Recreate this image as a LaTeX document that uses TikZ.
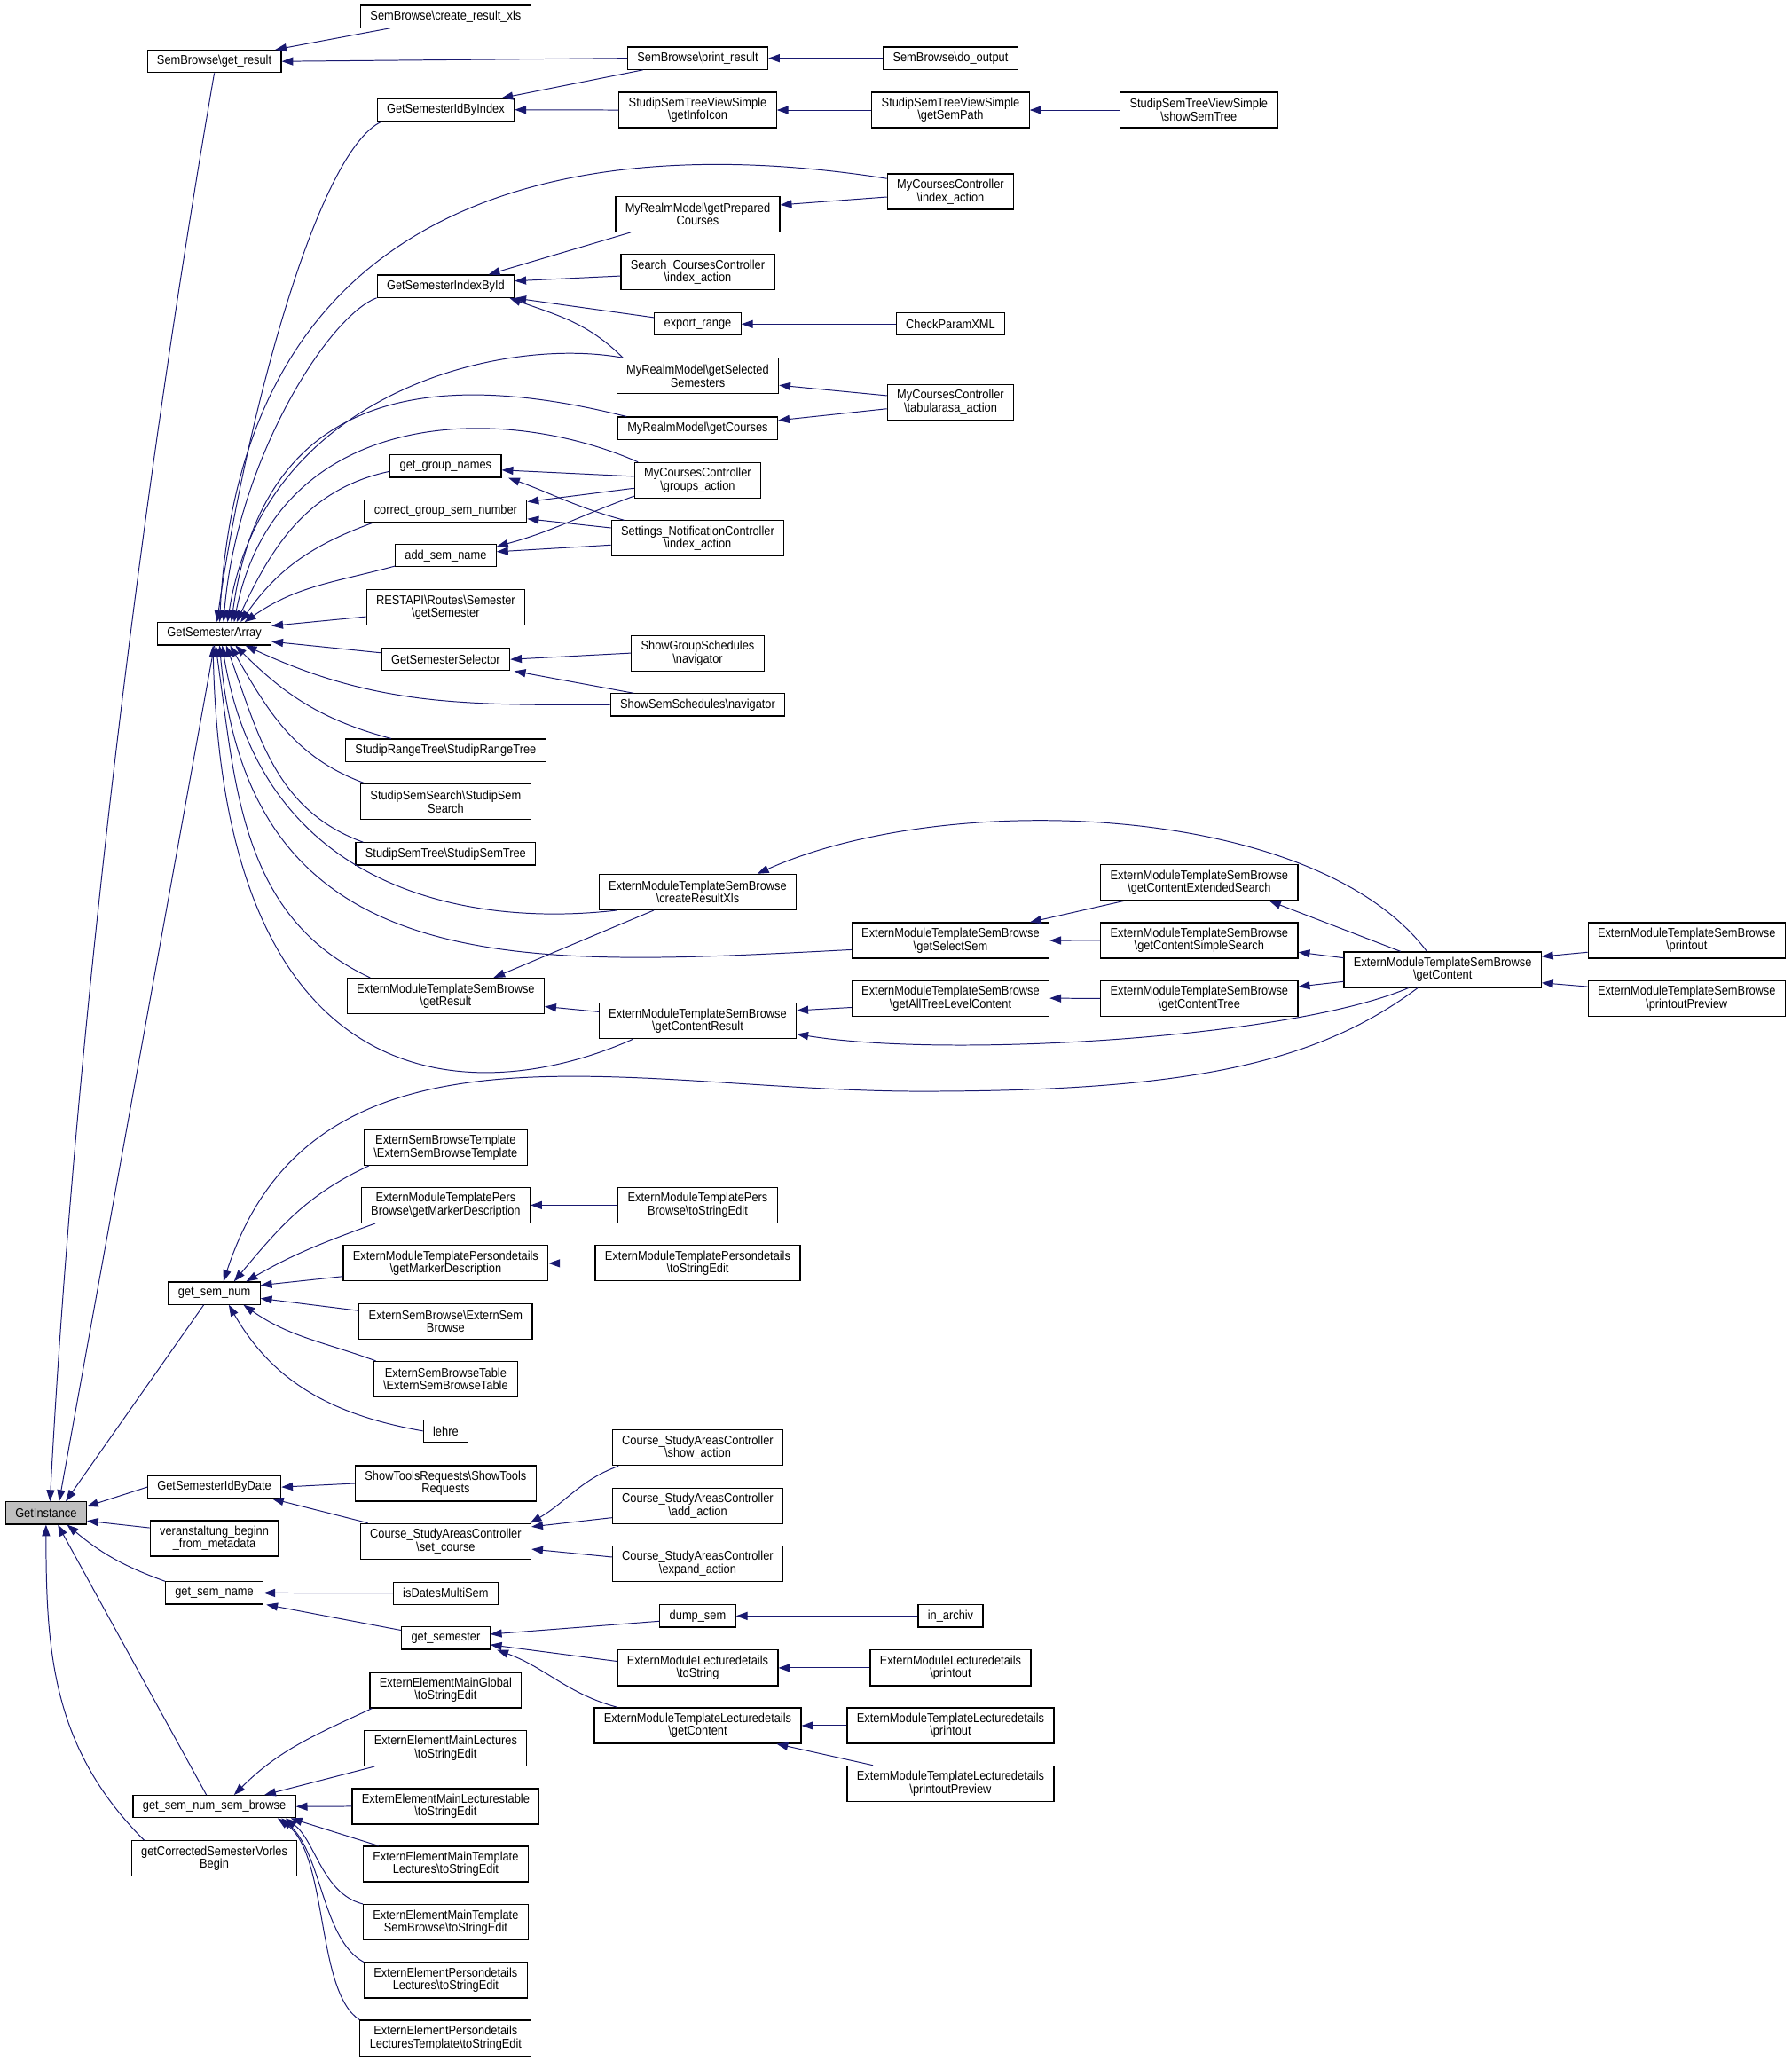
\documentclass[tikz,border=0pt]{standalone}
\usepackage{fontspec}
\setmainfont{Liberation Sans}[FakeStretch=0.89]
\usetikzlibrary{arrows.meta,calc}
\definecolor{edgeblue}{RGB}{25,25,112}
\definecolor{rootgray}{RGB}{191,191,191}
\newcommand{\bksl}{\textbackslash}
\begin{document}
\begin{tikzpicture}[x=0.75pt,y=-0.75pt,font=\fontsize{7.3}{7.3}\selectfont]
 \tikzstyle{fnnode}=[draw=black, line width=0.6pt, fill=white, align=center, inner xsep=5.5pt, inner ysep=1pt, minimum height=12.75pt]
 \tikzstyle{fntwo}=[fnnode, minimum height=20.25pt]
 \tikzstyle{rootnode}=[fnnode, fill=rootgray]
 \tikzstyle{callarrow}=[draw=edgeblue, line width=0.5pt, -{Triangle[length=6.5pt,width=4.6pt]}]
 \useasboundingbox (0,0) rectangle (1363,1567.5);
 % column 0 and 1
 \node[rootnode] (gi) at (35,1150.7) {GetInstance};
 \node[fnnode] (sbgr) at (163,46.7) {SemBrowse\bksl get\_result};
 \node[fnnode] (gsa) at (163,482) {GetSemesterArray};
 \node[fnnode] (gsn) at (163,983.5) {get\_sem\_num};
 \node[fnnode] (gsibd) at (163,1131) {GetSemesterIdByDate};
 \node[fntwo] (vbfm) at (163,1170) {veranstaltung\_beginn\\\_from\_metadata};
 \node[fnnode] (gsnm) at (163,1211.5) {get\_sem\_name};
 \node[fnnode] (gsnsb) at (163,1374) {get\_sem\_num\_sem\_browse};
 \node[fntwo] (gcsvb) at (163,1413.5) {getCorrectedSemesterVorles\\Begin};
 % column 2
 \node[fnnode] (sbcrx) at (339,12.5) {SemBrowse\bksl create\_result\_xls};
 \node[fnnode] (gsibi) at (339,83.5) {GetSemesterIdByIndex};
 \node[fnnode] (gsiid) at (339,217.7) {GetSemesterIndexById};
 \node[fnnode] (ggn) at (339,354.5) {get\_group\_names};
 \node[fnnode] (cgsn) at (339,388.6) {correct\_group\_sem\_number};
 \node[fnnode] (asn) at (339,422.6) {add\_sem\_name};
 \node[fntwo] (rest) at (339,462) {RESTAPI\bksl Routes\bksl Semester\\\bksl getSemester};
 \node[fnnode] (gss) at (339,501.5) {GetSemesterSelector};
 \node[fnnode] (srt) at (339,570.6) {StudipRangeTree\bksl StudipRangeTree};
 \node[fntwo] (sss) at (339,609.8) {StudipSemSearch\bksl StudipSem\\Search};
 \node[fnnode] (sst) at (339,649.4) {StudipSemTree\bksl StudipSemTree};
 \node[fntwo] (emgr) at (339,757.5) {ExternModuleTemplateSemBrowse\\\bksl getResult};
 \node[fntwo] (esbt) at (339,872.7) {ExternSemBrowseTemplate\\\bksl ExternSemBrowseTemplate};
 \node[fntwo] (mpbgmd) at (339,916.6) {ExternModuleTemplatePers\\Browse\bksl getMarkerDescription};
 \node[fntwo] (mpdgmd) at (339,960.8) {ExternModuleTemplatePersondetails\\\bksl getMarkerDescription};
 \node[fntwo] (esb) at (339,1004.8) {ExternSemBrowse\bksl ExternSem\\Browse};
 \node[fntwo] (esbtab) at (339,1048.9) {ExternSemBrowseTable\\\bksl ExternSemBrowseTable};
 \node[fnnode] (lehre) at (339,1088.3) {lehre};
 \node[fntwo] (strq) at (339,1128.2) {ShowToolsRequests\bksl ShowTools\\Requests};
 \node[fntwo] (csset) at (339,1172.2) {Course\_StudyAreasController\\\bksl set\_course};
 \node[fnnode] (idms) at (339,1211.7) {isDatesMultiSem};
 \node[fnnode] (gsem) at (339,1245.9) {get\_semester};
 \node[fntwo] (eemg) at (339,1285.4) {ExternElementMainGlobal\\\bksl toStringEdit};
 \node[fntwo] (eeml) at (339,1329.6) {ExternElementMainLectures\\\bksl toStringEdit};
 \node[fntwo] (eemlt) at (339,1373.8) {ExternElementMainLecturestable\\\bksl toStringEdit};
 \node[fntwo] (eemtl) at (339,1417.7) {ExternElementMainTemplate\\Lectures\bksl toStringEdit};
 \node[fntwo] (eemtsb) at (339,1461.9) {ExternElementMainTemplate\\SemBrowse\bksl toStringEdit};
 \node[fntwo] (eepl) at (339,1506.1) {ExternElementPersondetails\\Lectures\bksl toStringEdit};
 \node[fntwo] (eeplt) at (339,1550) {ExternElementPersondetails\\LecturesTemplate\bksl toStringEdit};
 % column 3
 \node[fnnode] (sbpr) at (530.7,44.3) {SemBrowse\bksl print\_result};
 \node[fntwo] (ssgii) at (530.7,83.7) {StudipSemTreeViewSimple\\\bksl getInfoIcon};
 \node[fntwo] (mrgpc) at (530.7,162.8) {MyRealmModel\bksl getPrepared\\Courses};
 \node[fntwo] (scia) at (530.7,206.9) {Search\_CoursesController\\\bksl index\_action};
 \node[fnnode] (exr) at (530.7,246.5) {export\_range};
 \node[fntwo] (mrgss) at (530.7,286) {MyRealmModel\bksl getSelected\\Semesters};
 \node[fnnode] (mrgc) at (530.7,325.7) {MyRealmModel\bksl getCourses};
 \node[fntwo] (mcga) at (530.7,365.3) {MyCoursesController\\\bksl groups\_action};
 \node[fntwo] (snia) at (530.7,409.5) {Settings\_NotificationController\\\bksl index\_action};
 \node[fntwo] (sgsn) at (530.7,496.7) {ShowGroupSchedules\\\bksl navigator};
 \node[fnnode] (sssn) at (530.7,536.1) {ShowSemSchedules\bksl navigator};
 \node[fntwo] (emcrx) at (530.7,678.4) {ExternModuleTemplateSemBrowse\\\bksl createResultXls};
 \node[fntwo] (emgcr) at (530.7,776.5) {ExternModuleTemplateSemBrowse\\\bksl getContentResult};
 \node[fntwo] (mpbtse) at (530.7,916.6) {ExternModuleTemplatePers\\Browse\bksl toStringEdit};
 \node[fntwo] (mpdtse) at (530.7,960.8) {ExternModuleTemplatePersondetails\\\bksl toStringEdit};
 \node[fntwo] (cssa) at (530.7,1101.1) {Course\_StudyAreasController\\\bksl show\_action};
 \node[fntwo] (csaa) at (530.7,1145.3) {Course\_StudyAreasController\\\bksl add\_action};
 \node[fntwo] (csea) at (530.7,1189.2) {Course\_StudyAreasController\\\bksl expand\_action};
 \node[fnnode] (dsem) at (530.7,1229) {dump\_sem};
 \node[fntwo] (mldts) at (530.7,1268.5) {ExternModuleLecturedetails\\\bksl toString};
 \node[fntwo] (mtlgc) at (530.7,1312.4) {ExternModuleTemplateLecturedetails\\\bksl getContent};
 % column 4
 \node[fnnode] (sbdo) at (723,44.3) {SemBrowse\bksl do\_output};
 \node[fntwo] (ssgsp) at (723,83.7) {StudipSemTreeViewSimple\\\bksl getSemPath};
 \node[fntwo] (mcia) at (723,145.8) {MyCoursesController\\\bksl index\_action};
 \node[fnnode] (cpx) at (723,246.5) {CheckParamXML};
 \node[fntwo] (mcta) at (723,305.9) {MyCoursesController\\\bksl tabularasa\_action};
 \node[fntwo] (emgsel) at (723,715.3) {ExternModuleTemplateSemBrowse\\\bksl getSelectSem};
 \node[fntwo] (emgatl) at (723,759.2) {ExternModuleTemplateSemBrowse\\\bksl getAllTreeLevelContent};
 \node[fnnode] (inarch) at (723,1229) {in\_archiv};
 \node[fntwo] (mldpo) at (723,1268.5) {ExternModuleLecturedetails\\\bksl printout};
 \node[fntwo] (mtlpo) at (723,1312.4) {ExternModuleTemplateLecturedetails\\\bksl printout};
 \node[fntwo] (mtlpp) at (723,1356.5) {ExternModuleTemplateLecturedetails\\\bksl printoutPreview};
 % columns 5 to 7
 \node[fntwo] (ssst) at (911.8,83.7) {StudipSemTreeViewSimple\\\bksl showSemTree};
 \node[fntwo] (emges) at (912.2,671.3) {ExternModuleTemplateSemBrowse\\\bksl getContentExtendedSearch};
 \node[fntwo] (emgssr) at (912.2,715.2) {ExternModuleTemplateSemBrowse\\\bksl getContentSimpleSearch};
 \node[fntwo] (emgct) at (912.2,759.4) {ExternModuleTemplateSemBrowse\\\bksl getContentTree};
 \node[fntwo] (emgc) at (1097.3,737.5) {ExternModuleTemplateSemBrowse\\\bksl getContent};
 \node[fntwo] (empo) at (1282.9,715.2) {ExternModuleTemplateSemBrowse\\\bksl printout};
 \node[fntwo] (empp) at (1282.9,759.4) {ExternModuleTemplateSemBrowse\\\bksl printoutPreview};
 % calls into GetInstance
 \draw[callarrow] (sbgr.south) .. controls (100,420) and (55,820) .. ($(gi.north)+(3,0)$);
 \draw[callarrow] (gsa.south) -- ($(gi.north)+(10,0)$);
 \draw[callarrow] ($(gsn.south)+(-8,0)$) -- ($(gi.north)+(15,0)$);
 \draw[callarrow] (gsibd.west) -- ($(gi.east)+(0,-5)$);
 \draw[callarrow] ($(vbfm.west)+(0,-8)$) -- ($(gi.east)+(0,6)$);
 \draw[callarrow] (gsnm.north west) to[out=160,in=-40] ($(gi.south)+(16,0)$);
 \draw[callarrow] ($(gsnsb.north)+(-6,0)$) -- ($(gi.south)+(9,0)$);
 \draw[callarrow] ($(gcsvb.north west)+(10,0)$) to[out=135,in=-90] (gi.south);
 % SemBrowse
 \draw[callarrow] ($(sbcrx.south west)+(23,0)$) -- ($(sbgr.north east)+(-5,0)$);
 \draw[callarrow] (sbpr.west) -- (sbgr.east);
 \draw[callarrow] (sbdo.west) -- (sbpr.east);
 \draw[callarrow] ($(sbpr.south west)+(12,0)$) -- ($(gsibi.north east)+(-10,0)$);
 \draw[callarrow] (ssgii.west) -- (gsibi.east);
 \draw[callarrow] (ssgsp.west) -- (ssgii.east);
 \draw[callarrow] (ssst.west) -- (ssgsp.east);
 % calls into GetSemesterArray
 \draw[callarrow] ($(gsibi.south west)+(4,0)$) .. controls (240,115) and (185,330) .. ($(gsa.north)+(2,0)$);
 \draw[callarrow] ($(mcia.west)+(0,-10)$) .. controls (480,105) and (185,120) .. ($(gsa.north)+(4,0)$);
 \draw[callarrow] (gsiid.south west) .. controls (250,240) and (180,350) .. ($(gsa.north)+(7,0)$);
 \draw[callarrow] ($(mrgss.north west)+(5,0)$) .. controls (380,255) and (200,300) .. ($(gsa.north)+(10,0)$);
 \draw[callarrow] ($(mrgc.north west)+(7,0)$) .. controls (330,280) and (200,295) .. ($(gsa.north)+(13,0)$);
 \draw[callarrow] ($(mcga.north west)+(3,0)$) .. controls (380,305) and (210,310) .. ($(gsa.north)+(15,0)$);
 \draw[callarrow] ($(ggn.west)+(0,4)$) to[out=192,in=65] ($(gsa.north)+(17,0)$);
 \draw[callarrow] ($(cgsn.south west)+(7,0)$) to[out=200,in=55] ($(gsa.north)+(20,0)$);
 \draw[callarrow] ($(asn.west)+(0,8)$) to[out=195,in=35] ($(gsa.north)+(23,0)$);
 \draw[callarrow] ($(rest.west)+(0,7)$) -- ($(gsa.east)+(0,-6)$);
 \draw[callarrow] ($(gss.west)+(0,-5)$) -- ($(gsa.east)+(0,6)$);
 \draw[callarrow] (sssn.west) to[out=180,in=-25] ($(gsa.south east)+(-20,0)$);
 \draw[callarrow] ($(srt.north west)+(35,0)$) to[out=165,in=-45] ($(gsa.south)+(16,0)$);
 \draw[callarrow] ($(sss.north west)+(4,0)$) to[out=160,in=-60] ($(gsa.south)+(12,0)$);
 \draw[callarrow] ($(sst.north west)+(6,0)$) to[out=160,in=-70] ($(gsa.south)+(9,0)$);
 \draw[callarrow] ($(emcrx.south west)+(14,0)$) .. controls (360,705) and (200,680) .. ($(gsa.south)+(6,0)$);
 \draw[callarrow] ($(emgsel.west)+(0,7)$) .. controls (400,735) and (190,750) .. ($(gsa.south)+(4,0)$);
 \draw[callarrow] ($(emgr.north west)+(18,0)$) to[out=155,in=-82] ($(gsa.south)+(1,0)$);
 \draw[callarrow] ($(emgcr.south west)+(26,0)$) .. controls (370,840) and (170,850) .. ($(gsa.south)+(-1,0)$);
 % GetSemesterIndexById and friends
 \draw[callarrow] ($(mrgss.north west)+(5,0)$) to[out=135,in=-20] ($(gsiid.south east)+(-4,0)$);
 \draw[callarrow] ($(mrgpc.south west)+(12,0)$) -- ($(gsiid.north east)+(-20,0)$);
 \draw[callarrow] ($(scia.west)+(0,3)$) -- ($(gsiid.east)+(0,-4)$);
 \draw[callarrow] ($(exr.west)+(0,-5)$) -- ($(gsiid.east)+(0,9)$);
 \draw[callarrow] ($(mcia.west)+(0,4)$) -- ($(mrgpc.east)+(0,-7)$);
 \draw[callarrow] (cpx.west) -- (exr.east);
 \draw[callarrow] ($(mcta.west)+(0,-5)$) -- ($(mrgss.east)+(0,7)$);
 \draw[callarrow] ($(mcta.west)+(0,5)$) -- ($(mrgc.east)+(0,-6)$);
 % group names, sem numbers
 \draw[callarrow] ($(mcga.west)+(0,-3)$) -- ($(ggn.east)+(0,3)$);
 \draw[callarrow] ($(snia.north west)+(10,0)$) to[out=165,in=-20] ($(ggn.south east)+(5,0)$);
 \draw[callarrow] ($(mcga.west)+(0,6)$) -- ($(cgsn.east)+(0,-7)$);
 \draw[callarrow] ($(snia.west)+(0,-8)$) -- ($(cgsn.east)+(0,6)$);
 \draw[callarrow] ($(mcga.west)+(0,12)$) to[out=200,in=15] ($(asn.east)+(0,-7)$);
 \draw[callarrow] ($(snia.west)+(0,5)$) -- ($(asn.east)+(0,-3)$);
 \draw[callarrow] (sgsn.west) -- (gss.east);
 \draw[callarrow] ($(sssn.north west)+(18,0)$) -- ($(gss.south east)+(3,0)$);
 % ExternModuleTemplateSemBrowse
 \draw[callarrow] ($(emgc.north)+(-12,0)$) .. controls (1000,610) and (720,600) .. ($(emcrx.north east)+(-30,0)$);
 \draw[callarrow] ($(emges.south west)+(18,0)$) -- ($(emgsel.north east)+(-15,0)$);
 \draw[callarrow] (emgssr.west) -- (emgsel.east);
 \draw[callarrow] (emgct.west) -- (emgatl.east);
 \draw[callarrow] ($(emgatl.west)+(0,7)$) -- ($(emgcr.east)+(0,-8)$);
 \draw[callarrow] ($(emgc.north)+(-32,0)$) -- ($(emges.south east)+(-22,0)$);
 \draw[callarrow] ($(emgc.west)+(0,-9)$) -- ($(emgssr.east)+(0,9)$);
 \draw[callarrow] ($(emgc.west)+(0,9)$) -- ($(emgct.east)+(0,-9)$);
 \draw[callarrow] ($(emgc.south)+(-26,0)$) .. controls (980,790) and (720,805) .. ($(emgcr.east)+(0,10)$);
 \draw[callarrow] ($(empo.west)+(0,9)$) -- ($(emgc.east)+(0,-10)$);
 \draw[callarrow] ($(empp.west)+(0,-9)$) -- ($(emgc.east)+(0,10)$);
 \draw[callarrow] ($(emcrx.south west)+(42,0)$) -- ($(emgr.north east)+(-39,0)$);
 \draw[callarrow] ($(emgcr.west)+(0,-7)$) -- ($(emgr.east)+(0,8)$);
 % get_sem_num
 \draw[callarrow] ($(emgc.south)+(-19,0)$) .. controls (1000,810) and (900,830) .. (700,830) .. controls (480,830) and (240,760) .. ($(gsn.north)+(7,0)$);
 \draw[callarrow] ($(esbt.south west)+(4,0)$) to[out=205,in=50] ($(gsn.north)+(15,0)$);
 \draw[callarrow] ($(mpbgmd.south west)+(11,0)$) to[out=200,in=30] ($(gsn.north east)+(-11,0)$);
 \draw[callarrow] ($(mpdgmd.west)+(0,10)$) -- ($(gsn.east)+(0,-6)$);
 \draw[callarrow] ($(esb.west)+(0,-8)$) -- ($(gsn.east)+(0,4)$);
 \draw[callarrow] ($(esbtab.north west)+(2,0)$) to[out=160,in=-35] ($(gsn.south east)+(-13,0)$);
 \draw[callarrow] (lehre.west) to[out=170,in=-60] ($(gsn.south)+(11,0)$);
 \draw[callarrow] (mpbtse.west) -- (mpbgmd.east);
 \draw[callarrow] (mpdtse.west) -- (mpdgmd.east);
 % GetSemesterIdByDate
 \draw[callarrow] (strq.west) -- (gsibd.east);
 \draw[callarrow] ($(csset.north west)+(6,0)$) -- ($(gsibd.south east)+(-7,0)$);
 \draw[callarrow] ($(cssa.south west)+(5,0)$) to[out=200,in=30] ($(csset.north east)+(-1,0)$);
 \draw[callarrow] ($(csaa.west)+(0,9)$) -- ($(csset.east)+(0,-11)$);
 \draw[callarrow] ($(csea.west)+(0,-5)$) -- ($(csset.east)+(0,6)$);
 % get_sem_name
 \draw[callarrow] (idms.west) -- (gsnm.east);
 \draw[callarrow] ($(gsem.west)+(0,-6)$) -- ($(gsnm.south east)+(2,0)$);
 \draw[callarrow] ($(dsem.west)+(0,4)$) -- ($(gsem.east)+(0,-3)$);
 \draw[callarrow] ($(mldts.west)+(0,-5)$) -- ($(gsem.east)+(0,5)$);
 \draw[callarrow] ($(mtlgc.north west)+(18,0)$) to[out=165,in=-20] ($(gsem.south east)+(5,0)$);
 \draw[callarrow] (inarch.west) -- (dsem.east);
 \draw[callarrow] (mldpo.west) -- (mldts.east);
 \draw[callarrow] (mtlpo.west) -- (mtlgc.east);
 \draw[callarrow] ($(mtlpp.north west)+(20,0)$) -- ($(mtlgc.south east)+(-19,0)$);
 % get_sem_num_sem_browse
 \draw[callarrow] ($(eemg.south west)+(2,0)$) to[out=205,in=45] ($(gsnsb.north)+(15,0)$);
 \draw[callarrow] ($(eeml.south west)+(8,0)$) -- ($(gsnsb.north east)+(-24,0)$);
 \draw[callarrow] (eemlt.west) -- (gsnsb.east);
 \draw[callarrow] ($(eemtl.north west)+(12,0)$) -- ($(gsnsb.south east)+(-4,0)$);
 \draw[callarrow] (eemtsb.north west) .. controls (245,1440) and (240,1400) .. ($(gsnsb.south east)+(-8,0)$);
 \draw[callarrow] (eepl.north west) .. controls (245,1475) and (245,1410) .. ($(gsnsb.south east)+(-11,0)$);
 \draw[callarrow] (eeplt.north west) .. controls (240,1515) and (250,1410) .. ($(gsnsb.south east)+(-14,0)$);
\end{tikzpicture}
\end{document}
